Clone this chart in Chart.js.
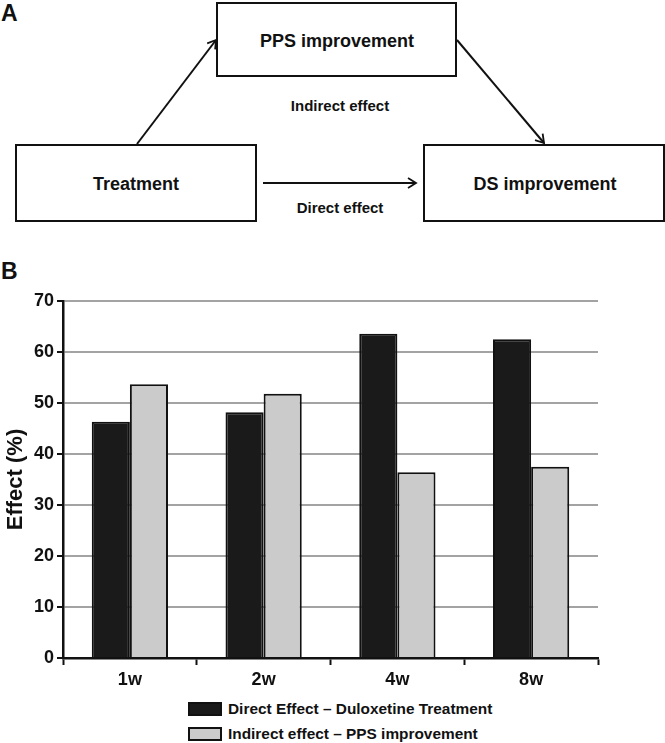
<!DOCTYPE html>
<html>
<head>
<meta charset="utf-8">
<script src="https://cdn.jsdelivr.net/npm/chart.js@4.4.0/dist/chart.umd.min.js"></script>
<style>
  body { margin: 0; background: #fff; font-family: "Liberation Sans", Arial, sans-serif; }
  #page { position: relative; width: 665px; height: 743px; overflow: hidden; }
  .panel { position: absolute; font-weight: bold; font-size: 23px; color: #111; }
  #diagram { position: absolute; left: 0; top: 0; }
  #chartBox { position: absolute; left: 0; top: 280px; width: 665px; height: 410px; }
  #legend { position: absolute; left: 188px; top: 696px; font-weight: bold; font-size: 15.4px; color: #111; }
  .item { display: flex; align-items: center; height: 25px; }
  .swatch { width: 34px; height: 14px; margin-right: 6px; box-sizing: border-box; border: 2px solid #111; }
</style>
</head>
<body>
<div id="page">
  <div class="panel" style="left:1px; top:0px;">A</div>
  <div class="panel" style="left:1px; top:258px;">B</div>

  <svg id="diagram" width="665" height="230" xmlns="http://www.w3.org/2000/svg">
    <defs>
      <marker id="head" markerWidth="12" markerHeight="12" refX="10" refY="6" orient="auto" markerUnits="userSpaceOnUse">
        <polyline points="2,1 10,6 2,11" fill="none" stroke="#111" stroke-width="1.8"/>
      </marker>
    </defs>
    <g fill="none" stroke="#111" stroke-width="2">
      <rect x="217" y="3" width="239" height="73"/>
      <rect x="16" y="145" width="240" height="76"/>
      <rect x="424" y="145" width="240" height="76"/>
    </g>
    <g stroke="#111" stroke-width="2" marker-end="url(#head)">
      <line x1="137" y1="144" x2="216" y2="40"/>
      <line x1="457" y1="40" x2="544" y2="143"/>
      <line x1="263" y1="183" x2="416" y2="183"/>
    </g>
    <g font-family="Liberation Sans, Arial, sans-serif" font-weight="bold" fill="#111" text-anchor="middle" dominant-baseline="central">
      <text x="337" y="41" font-size="18">PPS improvement</text>
      <text x="136" y="184" font-size="18">Treatment</text>
      <text x="545" y="184" font-size="18">DS improvement</text>
      <text x="340" y="105" font-size="15">Indirect effect</text>
      <text x="340" y="207" font-size="15">Direct effect</text>
    </g>
  </svg>

  <div id="chartBox"><canvas id="effectChart" width="665" height="410"></canvas></div>
  <div id="legend"></div>
</div>

<script>
// dados do gráfico
const weeks = ['1w', '2w', '4w', '8w'];
const directEffect = [46.3, 48.2, 63.6, 62.5];
const indirectEffect = [53.7, 51.8, 36.4, 37.5];
const yTicks = [0, 10, 20, 30, 40, 50, 60, 70];

const seriesNames = ['Direct Effect \u2013 Duloxetine Treatment', 'Indirect effect \u2013 PPS improvement'];
const seriesColors = ['#1a1a1a', '#cbcbcb'];

const boldFont = { family: '"Liberation Sans", Arial, sans-serif', weight: 'bold', size: 18 };

const ctx = document.getElementById('effectChart').getContext('2d');
const chart = new Chart(ctx, {
    type: 'bar',
    data: {
        labels: weeks,
        datasets: [
            { label: seriesNames[0], data: directEffect, backgroundColor: seriesColors[0], borderColor: '#111', borderWidth: 2 },
            { label: seriesNames[1], data: indirectEffect, backgroundColor: seriesColors[1], borderColor: '#111', borderWidth: 2 }
        ]
    },
    options: {
        responsive: false,
        animation: false,
        layout: { padding: { top: 21, right: 67, left: 0, bottom: 0 } },
        categoryPercentage: 0.57,
        barPercentage: 1.0,
        plugins: {
            legend: { display: false },
            tooltip: { enabled: false }
        },
        scales: {
            x: {
                grid: { offset: true, drawOnChartArea: false, tickLength: 7, tickColor: '#111', tickWidth: 2 },
                border: { color: '#111', width: 2.5 },
                ticks: { color: '#111', font: boldFont, padding: 4 },
                afterFit: function(scale) { scale.height = 32; }
            },
            y: {
                min: 0,
                max: 70,
                afterBuildTicks: function(scale) { scale.ticks = yTicks.map(v => ({ value: v })); },
                grid: { color: '#a3a3a3', lineWidth: 2, tickColor: '#111', tickWidth: 2, tickLength: 6 },
                border: { color: '#111', width: 2.5 },
                ticks: { color: '#111', font: boldFont, padding: 3 },
                title: { display: true, text: 'Effect (%)', color: '#111', font: { family: '"Liberation Sans", Arial, sans-serif', weight: 'bold', size: 22 }, padding: { top: 3, bottom: 0 } },
                afterFit: function(scale) { scale.width = 63; }
            }
        }
    }
});

// legenda em HTML, gerada a partir dos datasets
const legend = document.getElementById('legend');
chart.data.datasets.forEach(ds => {
    const row = document.createElement('div');
    row.className = 'item';
    const sw = document.createElement('span');
    sw.className = 'swatch';
    sw.style.background = ds.backgroundColor;
    row.appendChild(sw);
    row.appendChild(document.createTextNode(ds.label));
    legend.appendChild(row);
});
</script>
</body>
</html>
